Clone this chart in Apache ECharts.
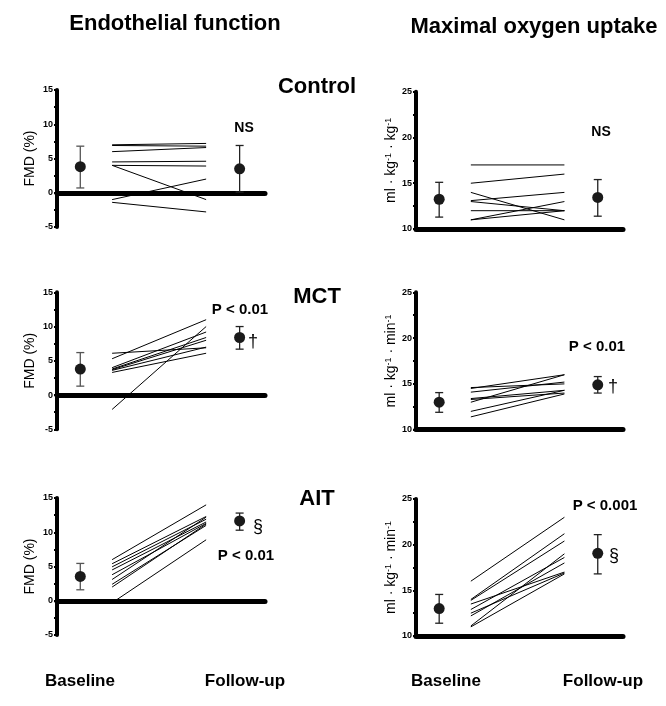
<!DOCTYPE html>
<html>
<head>
<meta charset="utf-8">
<script src="https://cdn.jsdelivr.net/npm/echarts@6/dist/echarts.min.js"></script>
<style>
  html, body { margin: 0; padding: 0; background: #fff; }
  #chart { width: 666px; height: 706px; }
</style>
</head>
<body>
<div id="chart"></div>
<script>
// ---------- DATA ----------
const columnTitles = ['Endothelial function', 'Maximal oxygen uptake'];
const groupNames = ['Control', 'MCT', 'AIT'];
const timeLabels = ['Baseline', 'Follow-up'];

// FMD (%) individual values (baseline -> follow-up)
const ctrlFmdBaseline = [7.0, 6.9, 6.0, 4.5, 4.0, 4.0, -1.0, -1.4];
const ctrlFmdFollowup = [7.2, 6.8, 6.6, 4.6, 3.9, -1.0, 2.0, -2.8];
const mctFmdBaseline  = [5.3, 6.1, -2.1, 4.0, 3.8, 3.6, 3.3, 3.7];
const mctFmdFollowup  = [11.0, 6.9, 10.0, 9.2, 8.4, 7.0, 6.1, 8.0];
const aitFmdBaseline  = [6.0, 5.4, 4.95, 4.5, 3.8, 3.1, 2.4, 2.0, -0.3];
const aitFmdFollowup  = [14.0, 12.3, 11.9, 11.5, 11.3, 12.2, 11.0, 11.2, 8.9];

// VO2max individual values (baseline -> follow-up)
const ctrlVo2Baseline = [17.0, 15.0, 14.0, 13.1, 13.0, 12.0, 11.0, 11.0];
const ctrlVo2Followup = [17.0, 16.0, 11.0, 14.0, 12.0, 12.0, 13.0, 12.0];
const mctVo2Baseline  = [14.6, 14.5, 14.1, 13.4, 13.3, 13.0, 12.0, 11.4];
const mctVo2Followup  = [15.0, 16.0, 15.2, 14.3, 14.0, 16.0, 14.3, 13.9];
const aitVo2Baseline  = [16.0, 14.0, 13.9, 13.5, 12.9, 12.5, 12.2, 11.1, 11.0];
const aitVo2Followup  = [23.0, 21.2, 20.4, 17.0, 18.6, 16.9, 18.0, 19.0, 16.8];

// Group means with error bar ends [baseline, follow-up]
const ctrlFmdMean = [3.8, 3.5];   const ctrlFmdLow = [0.7, 0.1];   const ctrlFmdHigh = [6.8, 6.9];
const mctFmdMean  = [3.8, 8.4];   const mctFmdLow  = [1.3, 6.7];   const mctFmdHigh  = [6.2, 10.0];
const aitFmdMean  = [3.55, 11.65]; const aitFmdLow = [1.6, 10.3];  const aitFmdHigh  = [5.45, 12.8];
const ctrlVo2Mean = [13.25, 13.45]; const ctrlVo2Low = [11.3, 11.4]; const ctrlVo2High = [15.1, 15.4];
const mctVo2Mean  = [13.0, 14.9]; const mctVo2Low  = [11.9, 14.0]; const mctVo2High  = [14.05, 15.8];
const aitVo2Mean  = [13.0, 19.05]; const aitVo2Low = [11.4, 16.8]; const aitVo2High  = [14.55, 21.1];

// Axis ticks
const fmdTicks = [-5, 0, 5, 10, 15];
const vo2Ticks = [10, 15, 20, 25];

// ---------- LAYOUT ----------
const FONT = '"Liberation Sans", Arial, Helvetica, sans-serif';
const X_BASE = 11.2, X_START = 26.5, X_END = 71.7, X_FOLLOW = 87.8;

const panels = [
  { base: ctrlFmdBaseline, fol: ctrlFmdFollowup, mean: ctrlFmdMean, low: ctrlFmdLow, high: ctrlFmdHigh, kind: 'fmd', grid: { left: 57, top: 90, width: 208, height: 137 } },
  { base: ctrlVo2Baseline, fol: ctrlVo2Followup, mean: ctrlVo2Mean, low: ctrlVo2Low, high: ctrlVo2High, kind: 'vo2', unit: 'kg', grid: { left: 416, top: 91.7, width: 207, height: 137.3 } },
  { base: mctFmdBaseline,  fol: mctFmdFollowup,  mean: mctFmdMean,  low: mctFmdLow,  high: mctFmdHigh,  kind: 'fmd', grid: { left: 57, top: 292.3, width: 208, height: 137 } },
  { base: mctVo2Baseline,  fol: mctVo2Followup,  mean: mctVo2Mean,  low: mctVo2Low,  high: mctVo2High,  kind: 'vo2', unit: 'min', grid: { left: 416, top: 292.3, width: 207, height: 137.4 } },
  { base: aitFmdBaseline,  fol: aitFmdFollowup,  mean: aitFmdMean,  low: aitFmdLow,  high: aitFmdHigh,  kind: 'fmd', grid: { left: 57, top: 498, width: 208, height: 137 } },
  { base: aitVo2Baseline,  fol: aitVo2Followup,  mean: aitVo2Mean,  low: aitVo2Low,  high: aitVo2High,  kind: 'vo2', unit: 'min', grid: { left: 416, top: 499, width: 207, height: 137 } }
];

const grids = [], xAxes = [], yAxes = [], series = [];

panels.forEach((p, i) => {
  grids.push(Object.assign({ containLabel: false }, p.grid));
  xAxes.push({
    type: 'value', gridIndex: i, min: 0, max: 100,
    axisLine: { show: true, onZero: true, lineStyle: { color: '#000', width: 5 } },
    axisTick: { show: false }, axisLabel: { show: false }, splitLine: { show: false }
  });
  const isFmd = p.kind === 'fmd';
  const ticks = isFmd ? fmdTicks : vo2Ticks;
  yAxes.push({
    type: 'value', gridIndex: i,
    min: ticks[0], max: ticks[ticks.length - 1], interval: 5,
    name: isFmd ? 'FMD (%)' : ('ml · kg{sup|-1} · ' + p.unit + '{sup|-1}'),
    nameLocation: 'middle', nameRotate: 90,
    nameGap: isFmd ? 20 : 18,
    nameTextStyle: {
      fontFamily: FONT, fontSize: isFmd ? 14 : 14, color: '#000',
      rich: { sup: { fontFamily: FONT, fontSize: 9, color: '#000', verticalAlign: 'top', padding: [0, 0, 5, 0] } }
    },
    axisLine: { show: true, lineStyle: { color: '#000', width: 4 } },
    axisTick: { show: true, length: 3, lineStyle: { color: '#000', width: 2 } },
    minorTick: { show: true, splitNumber: 2, length: 3, lineStyle: { color: '#000', width: 2 } },
    axisLabel: { fontFamily: FONT, fontSize: 9, fontWeight: 'bold', color: '#000', margin: 4 },
    splitLine: { show: false }
  });

  // individual subject lines
  p.base.forEach((b, k) => {
    series.push({
      type: 'line', xAxisIndex: i, yAxisIndex: i,
      data: [[X_START, b], [X_END, p.fol[k]]],
      symbol: 'none', lineStyle: { color: '#000', width: 1 },
      silent: true, z: 3
    });
  });

  // error bars
  series.push({
    type: 'custom', xAxisIndex: i, yAxisIndex: i, z: 4, silent: true,
    data: [[X_BASE, p.low[0], p.high[0]], [X_FOLLOW, p.low[1], p.high[1]]],
    encode: { x: 0, y: [1, 2] },
    renderItem: function (params, api) {
      const x = api.value(0);
      const lo = api.coord([x, api.value(1)]);
      const hi = api.coord([x, api.value(2)]);
      const half = 4;
      const col = (isFmd && params.dataIndex === 0) ? '#555' : '#222';
      const st = { stroke: col, lineWidth: 1.3 };
      return {
        type: 'group',
        children: [
          { type: 'line', shape: { x1: lo[0], y1: lo[1], x2: hi[0], y2: hi[1] }, style: st },
          { type: 'line', shape: { x1: lo[0] - half, y1: lo[1], x2: lo[0] + half, y2: lo[1] }, style: st },
          { type: 'line', shape: { x1: hi[0] - half, y1: hi[1], x2: hi[0] + half, y2: hi[1] }, style: st }
        ]
      };
    }
  });

  // means
  series.push({
    type: 'scatter', xAxisIndex: i, yAxisIndex: i, z: 5, silent: true,
    data: [[X_BASE, p.mean[0]], [X_FOLLOW, p.mean[1]]],
    symbol: 'circle', symbolSize: 11,
    itemStyle: { color: '#1a1a1a', opacity: 1 }
  });
});

function txt(text, x, y, size, weight) {
  return {
    type: 'text', x: x, y: y, silent: true,
    style: {
      text: text, fontFamily: FONT, fontSize: size, fontWeight: weight || 'normal',
      fill: '#000', align: 'center', verticalAlign: 'middle',
      textAlign: 'center', textVerticalAlign: 'middle'
    }
  };
}

const graphics = [
  txt(columnTitles[0], 175, 24, 22, 'bold'),
  txt(columnTitles[1], 534, 27, 22, 'bold'),
  txt(groupNames[0], 317, 87, 22, 'bold'),
  txt(groupNames[1], 317, 297, 22, 'bold'),
  txt(groupNames[2], 317, 499, 22, 'bold'),
  txt('NS', 244, 128, 14, 'bold'),
  txt('NS', 601, 132, 14, 'bold'),
  txt('P < 0.01', 240, 310, 15, 'bold'),
  txt('†', 253, 342, 18),
  txt('P < 0.01', 597, 347, 15, 'bold'),
  txt('†', 613, 387, 18),
  txt('§', 258, 527, 18),
  txt('P < 0.01', 246, 556, 15, 'bold'),
  txt('P < 0.001', 605, 506, 15, 'bold'),
  txt('§', 614, 556, 18),
  txt(timeLabels[0], 80, 681, 17, 'bold'),
  txt(timeLabels[1], 245, 681, 17, 'bold'),
  txt(timeLabels[0], 446, 681, 17, 'bold'),
  txt(timeLabels[1], 603, 681, 17, 'bold')
];

const chart = echarts.init(document.getElementById('chart'), null, { renderer: 'canvas' });
chart.setOption({
  animation: false,
  backgroundColor: '#fff',
  grid: grids,
  xAxis: xAxes,
  yAxis: yAxes,
  series: series,
  graphic: graphics
});
</script>
</body>
</html>
